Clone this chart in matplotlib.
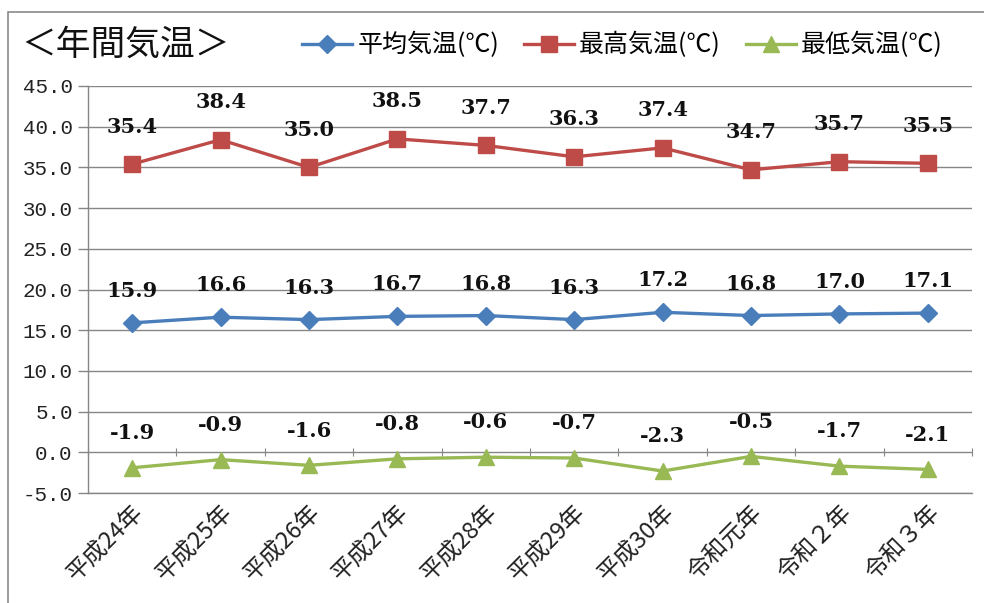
import matplotlib
matplotlib.use("Agg")
import matplotlib.pyplot as plt
from matplotlib.lines import Line2D
from matplotlib.patches import Rectangle
import numpy as np

plt.rcParams["font.family"] = ["Noto Sans CJK JP", "DejaVu Sans"]

years = ["平成24年", "平成25年", "平成26年", "平成27年", "平成28年",
         "平成29年", "平成30年", "令和元年", "令和２年", "令和３年"]
avg_temp = [15.9, 16.6, 16.3, 16.7, 16.8, 16.3, 17.2, 16.8, 17.0, 17.1]
max_temp = [35.4, 38.4, 35.0, 38.5, 37.7, 36.3, 37.4, 34.7, 35.7, 35.5]
min_temp = [-1.9, -0.9, -1.6, -0.8, -0.6, -0.7, -2.3, -0.5, -1.7, -2.1]
series_names = ["平均気温(℃)", "最高気温(℃)", "最低気温(℃)"]
y_ticks = [-5, 0, 5, 10, 15, 20, 25, 30, 35, 40, 45]

BLUE, RED, GREEN = "#4a7ebb", "#be4b48", "#98b954"
GRID = "#868686"

fig = plt.figure(figsize=(9.84, 6.03), dpi=100)
ax = fig.add_axes([0.0894, 0.1824, 0.8985, 0.675])

# outer chart frame
fig.patches.append(Rectangle((8 / 984, -0.1), 1.1, 1.1 - 12 / 603,
                             transform=fig.transFigure, fill=False,
                             edgecolor="#8a8a8a", linewidth=1.2))

x = np.arange(len(years))
styles = [
    (avg_temp, BLUE, "D", 9, 23),
    (max_temp, RED, "s", 11, 27),
    (min_temp, GREEN, "^", 12, 25),
]
for (vals, col, mk, ms, off), name in zip(styles, series_names):
    ax.plot(x, vals, color=col, linewidth=2.4, marker=mk, markersize=ms,
            markeredgecolor=col, label=name, zorder=3)
    for xi, v in zip(x, vals):
        ax.annotate(f"{v:.1f}", (xi, v), xytext=(0, off), textcoords="offset points",
                    ha="center", va="center", fontsize=15, fontweight="bold",
                    family="DejaVu Serif", color="#111111")

ax.set_xlim(-0.5, len(years) - 0.5)
ax.set_ylim(-5, 45)
ax.set_yticks(y_ticks)
ax.set_yticklabels([f"{t:.1f}" for t in y_ticks], family="Liberation Mono",
                   fontsize=15, color="#222222")
ax.set_xticks(x)
ax.set_xticklabels(years, rotation=45, ha="right", va="top",
                   rotation_mode="anchor", fontsize=17, color="#222222")
ax.tick_params(axis="x", length=0, pad=6)
ax.tick_params(axis="y", length=7, color=GRID, width=1, pad=4)

ax.grid(axis="y", color=GRID, linewidth=1)
ax.set_axisbelow(True)
for s in ["top", "right"]:
    ax.spines[s].set_visible(False)
for s in ["left", "bottom"]:
    ax.spines[s].set_color(GRID)
    ax.spines[s].set_linewidth(1)

# category divider ticks on the zero line
sec = ax.secondary_xaxis(0.1)
sec.set_xticks(np.arange(len(years) + 1) - 0.5)
sec.tick_params(axis="x", length=6, direction="inout", color=GRID, labelbottom=False)
sec.spines["bottom"].set_visible(False)

fig.text(0.022, 0.925, "＜年間気温＞", fontsize=25, va="center", ha="left", color="#111111")

handles = [Line2D([], [], color=c, marker=m, markersize=ms, linewidth=2.4)
           for (_, c, m, ms, _) in styles]
fig.legend(handles, series_names, loc="center left", bbox_to_anchor=(0.297, 0.925),
           ncol=3, frameon=False, fontsize=18, handlelength=2.0, handletextpad=0.2,
           columnspacing=1.0, borderaxespad=0)

fig.savefig("out.png", dpi=100)
